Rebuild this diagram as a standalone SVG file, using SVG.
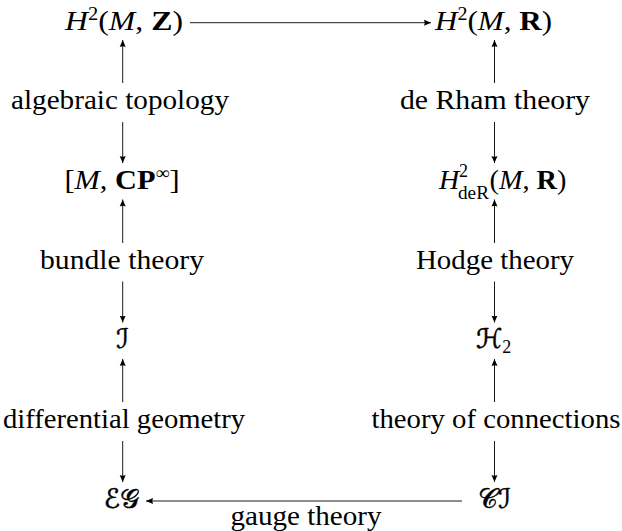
<svg xmlns="http://www.w3.org/2000/svg" width="622" height="531" viewBox="0 0 622 531" font-family="'Liberation Serif', 'Times New Roman', serif">
<style>
text{font-family:'Liberation Serif','Times New Roman',serif;font-size:28px;fill:#000;text-anchor:middle}
.i{font-style:italic}
.b{font-weight:bold}
.s{font-size:18px}
.cal{font-family:'DejaVu Sans','Noto Sans CJK SC',sans-serif;font-size:27px;stroke:#000;stroke-width:0.5}
.e{stroke:#000;stroke-width:0.9;fill:none;marker-end:url(#ah)}
</style>
<defs>
<marker id="ah" markerUnits="userSpaceOnUse" markerWidth="10" markerHeight="8" refX="7" refY="4" orient="auto" viewBox="0 0 10 8">
<path d="M7,4 L0,1 Q1.5,4 0,7 Z" fill="#000"/>
</marker>
</defs>
<g id="connectors">
<line class="e" x1="190" y1="22.7" x2="431" y2="22.7"/>
<line class="e" x1="122.7" y1="83" x2="122.7" y2="40"/>
<line class="e" x1="122.7" y1="122" x2="122.7" y2="163"/>
<line class="e" x1="122.7" y1="243" x2="122.7" y2="199.5"/>
<line class="e" x1="122.7" y1="281.5" x2="122.7" y2="322.5"/>
<line class="e" x1="122.7" y1="402" x2="122.7" y2="359"/>
<line class="e" x1="122.7" y1="441" x2="122.7" y2="482"/>
<line class="e" x1="494.5" y1="83" x2="494.5" y2="40"/>
<line class="e" x1="494.5" y1="122" x2="494.5" y2="163"/>
<line class="e" x1="494.5" y1="243" x2="494.5" y2="199.5"/>
<line class="e" x1="494.5" y1="281.5" x2="494.5" y2="322.5"/>
<line class="e" x1="494.5" y1="402" x2="494.5" y2="359"/>
<line class="e" x1="494.5" y1="441" x2="494.5" y2="482"/>
<line class="e" x1="462" y1="501" x2="146" y2="501"/>
<text x="306" y="525" font-family="Liberation Serif" textLength="151" lengthAdjust="spacingAndGlyphs">gauge theory</text>
</g>
<g id="HZ"><text x="124" y="29.5" textLength="118" lengthAdjust="spacingAndGlyphs"><tspan class="i">H</tspan><tspan class="s" dy="-10">2</tspan><tspan dy="10">(</tspan><tspan class="i">M</tspan>, <tspan class="b">Z</tspan>)</text></g>
<g id="HR"><text x="493.5" y="29.5" textLength="117" lengthAdjust="spacingAndGlyphs"><tspan class="i">H</tspan><tspan class="s" dy="-10">2</tspan><tspan dy="10">(</tspan><tspan class="i">M</tspan>, <tspan class="b">R</tspan>)</text></g>
<g id="alg"><text x="120" y="109.2" font-family="Liberation Serif" textLength="218" lengthAdjust="spacingAndGlyphs">algebraic topology</text></g>
<g id="deRham"><text x="495" y="109.2" font-family="Liberation Serif" textLength="190" lengthAdjust="spacingAndGlyphs">de Rham theory</text></g>
<g id="MCP"><text x="122" y="188.8" textLength="115" lengthAdjust="spacingAndGlyphs">[<tspan class="i">M</tspan>, <tspan class="b">CP</tspan><tspan class="s" dy="-10">∞</tspan><tspan dy="10">]</tspan></text></g>
<g id="HdeR">
<text x="439" y="188.8" style="text-anchor:start" class="i">H</text>
<text x="459" y="177" style="text-anchor:start" class="s">2</text>
<text x="458" y="198.5" style="text-anchor:start" class="s" textLength="31" lengthAdjust="spacingAndGlyphs">deR</text>
<text x="489.5" y="188.8" style="text-anchor:start" textLength="77" lengthAdjust="spacingAndGlyphs">(<tspan class="i">M</tspan>, <tspan class="b">R</tspan>)</text>
</g>
<g id="bundle"><text x="122" y="268.5" font-family="Liberation Serif" textLength="164" lengthAdjust="spacingAndGlyphs">bundle theory</text></g>
<g id="hodge"><text x="495" y="268.5" font-family="Liberation Serif" textLength="158" lengthAdjust="spacingAndGlyphs">Hodge theory</text></g>
<g id="I"><text x="122.5" y="348.2" class="cal">ℐ</text></g>
<g id="H2"><text x="493.5" y="348.2"><tspan class="cal">ℋ</tspan><tspan class="s" dy="5">2</tspan></text></g>
<g id="diffgeo"><text x="124" y="427.8" font-family="Liberation Serif" textLength="242" lengthAdjust="spacingAndGlyphs">differential geometry</text></g>
<g id="connections"><text x="496" y="427.8" font-family="Liberation Serif" textLength="249" lengthAdjust="spacingAndGlyphs">theory of connections</text></g>
<g id="EG"><text x="121.5" y="507.5" class="cal">ℰ𝒢</text></g>
<g id="CI"><text x="494.5" y="507.5" class="cal">𝒞ℐ</text></g>
</svg>
